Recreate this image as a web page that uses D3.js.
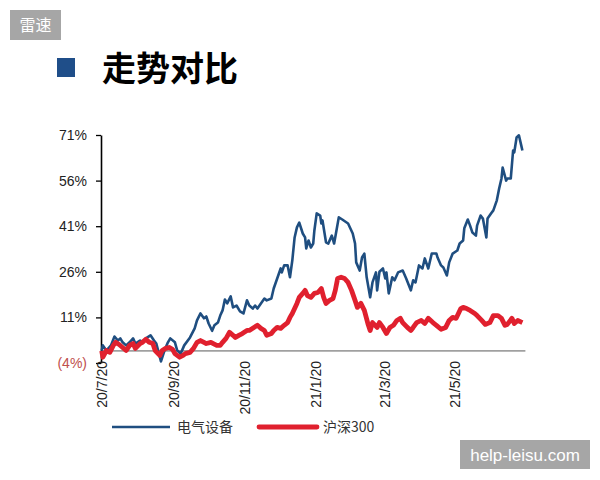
<!DOCTYPE html>
<html>
<head>
<meta charset="utf-8">
<script src="https://cdn.jsdelivr.net/npm/d3@7/dist/d3.min.js"></script>
<style>
html,body{margin:0;padding:0;background:#fff;}
svg{display:block;}
</style>
</head>
<body>
<svg id="chart" width="600" height="480"></svg>
<script>
// ---------------- data ----------------
const title = "走势对比";
const seriesNames = ["电气设备", "沪深300"];

const xTickDates = ["2020-07-20","2020-09-20","2020-11-20","2021-01-20","2021-03-20","2021-05-20"];
const xTickLabels = ["20/7/20","20/9/20","20/11/20","21/1/20","21/3/20","21/5/20"];
const yTickValues = [-4, 11, 26, 41, 56, 71];
const yTickLabels = ["(4%)","11%","26%","41%","56%","71%"];

const blueDates = ["2020-07-20","2020-07-21","2020-07-24","2020-07-28","2020-07-31","2020-08-03","2020-08-05","2020-08-07","2020-08-10","2020-08-13","2020-08-16","2020-08-18","2020-08-22","2020-08-24","2020-08-27","2020-08-31","2020-09-03","2020-09-05","2020-09-09","2020-09-12","2020-09-15","2020-09-17","2020-09-21","2020-09-23","2020-09-26","2020-09-29","2020-10-04","2020-10-08","2020-10-10","2020-10-13","2020-10-16","2020-10-18","2020-10-20","2020-10-23","2020-10-25","2020-10-28","2020-10-30","2020-11-01","2020-11-03","2020-11-05","2020-11-08","2020-11-10","2020-11-13","2020-11-16","2020-11-19","2020-11-22","2020-11-24","2020-11-27","2020-11-29","2020-12-01","2020-12-04","2020-12-07","2020-12-09","2020-12-13","2020-12-15","2020-12-18","2020-12-21","2020-12-22","2020-12-24","2020-12-27","2020-12-29","2020-12-31","2021-01-02","2021-01-04","2021-01-06","2021-01-09","2021-01-11","2021-01-12","2021-01-14","2021-01-16","2021-01-18","2021-01-19","2021-01-21","2021-01-24","2021-01-25","2021-01-26","2021-01-29","2021-01-31","2021-02-03","2021-02-05","2021-02-07","2021-02-09","2021-02-12","2021-02-17","2021-02-21","2021-02-23","2021-02-24","2021-02-27","2021-03-01","2021-03-03","2021-03-05","2021-03-08","2021-03-10","2021-03-13","2021-03-14","2021-03-16","2021-03-19","2021-03-21","2021-03-22","2021-03-24","2021-03-27","2021-03-29","2021-04-01","2021-04-05","2021-04-08","2021-04-12","2021-04-14","2021-04-16","2021-04-19","2021-04-22","2021-04-24","2021-04-27","2021-04-30","2021-05-04","2021-05-05","2021-05-08","2021-05-10","2021-05-13","2021-05-15","2021-05-18","2021-05-22","2021-05-24","2021-05-27","2021-05-28","2021-05-31","2021-06-02","2021-06-04","2021-06-07","2021-06-08","2021-06-11","2021-06-13","2021-06-16","2021-06-17","2021-06-20","2021-06-22","2021-06-25","2021-06-27","2021-06-29","2021-06-30","2021-07-03","2021-07-04","2021-07-07","2021-07-09","2021-07-10","2021-07-12","2021-07-14","2021-07-16","2021-07-17"];
const blueValues = [0,1.8,0.1,1.8,4.7,3.4,4.1,2.8,1.8,2.8,4.1,2.4,3.4,2.8,4.1,5.1,3.4,2.4,-3.5,0.1,2.8,4.1,2.8,0.1,-0.9,1.8,4.4,7.4,10.0,12.3,10.7,11.3,9.0,6.6,8.4,9.3,11.6,13.3,16.9,15.6,17.9,14.3,14.9,13.0,12.3,16.6,14.9,13.9,14.9,13.9,15.6,17.2,16.6,17.2,20.5,23.8,27.1,25.8,28.1,28.1,24.2,29.7,37.3,40.6,42.2,38.6,37.3,33.7,36.3,34.0,35.3,39.6,45.2,44.5,41.9,42.9,35.7,35.3,37.9,35.3,39.6,43.9,43.2,41.9,38.6,35.3,29.1,26.4,30.7,32.0,24.2,17.6,22.5,25.8,19.9,26.0,27.1,23.8,25.8,18.9,24.2,23.2,25.8,26.4,23.8,19.9,23.2,22.5,28.1,27.1,30.4,27.1,32.0,32.0,30.7,28.1,27.4,24.8,29.1,32.0,33.0,35.3,36.3,40.3,43.2,41.2,38.9,37.9,41.2,44.5,43.5,37.3,43.5,45.2,46.2,49.5,53.4,56.7,60.3,56.0,56.7,56.7,65.9,65.3,70.2,70.9,67.6,65.9];

const redDates = ["2020-07-20","2020-07-21","2020-07-24","2020-07-27","2020-07-30","2020-08-01","2020-08-04","2020-08-07","2020-08-10","2020-08-13","2020-08-16","2020-08-18","2020-08-22","2020-08-24","2020-08-27","2020-08-30","2020-09-02","2020-09-04","2020-09-08","2020-09-10","2020-09-13","2020-09-16","2020-09-19","2020-09-21","2020-09-25","2020-09-28","2020-09-30","2020-10-04","2020-10-07","2020-10-10","2020-10-13","2020-10-16","2020-10-18","2020-10-22","2020-10-24","2020-10-27","2020-10-30","2020-11-01","2020-11-04","2020-11-07","2020-11-10","2020-11-12","2020-11-15","2020-11-18","2020-11-22","2020-11-24","2020-11-28","2020-12-01","2020-12-04","2020-12-07","2020-12-09","2020-12-13","2020-12-15","2020-12-18","2020-12-21","2020-12-24","2020-12-27","2020-12-29","2020-12-31","2021-01-04","2021-01-06","2021-01-09","2021-01-11","2021-01-13","2021-01-16","2021-01-19","2021-01-22","2021-01-25","2021-01-27","2021-01-29","2021-02-01","2021-02-04","2021-02-06","2021-02-08","2021-02-11","2021-02-14","2021-02-17","2021-02-20","2021-02-23","2021-02-25","2021-02-28","2021-03-03","2021-03-06","2021-03-08","2021-03-10","2021-03-14","2021-03-16","2021-03-19","2021-03-22","2021-03-25","2021-03-28","2021-03-31","2021-04-03","2021-04-05","2021-04-09","2021-04-12","2021-04-14","2021-04-17","2021-04-21","2021-04-24","2021-04-27","2021-05-01","2021-05-04","2021-05-08","2021-05-12","2021-05-15","2021-05-18","2021-05-21","2021-05-25","2021-05-27","2021-05-30","2021-06-02","2021-06-06","2021-06-08","2021-06-12","2021-06-15","2021-06-19","2021-06-22","2021-06-26","2021-06-29","2021-07-02","2021-07-04","2021-07-08","2021-07-10","2021-07-13","2021-07-17"];
const redValues = [0,-2.1,0.1,-0.5,1.8,2.8,2.1,1.1,0.1,1.8,2.4,0.8,2.4,2.8,3.8,2.8,2.4,0.1,-1.5,0.1,0.8,1.1,0.5,-0.9,-2.1,-1.5,-0.9,-0.5,0.8,2.8,3.4,2.8,2.4,2.8,2.4,1.8,1.8,2.8,4.1,6.1,5.1,4.4,5.1,5.7,6.7,6.7,7.7,8.4,7.4,6.7,5.1,5.7,6.7,7.7,7.4,8.4,9.3,11.0,12.3,15.6,17.6,18.9,19.9,18.2,17.6,18.9,19.2,20.5,17.6,15.6,16.6,17.2,19.9,23.8,24.2,23.8,22.5,19.9,16.6,14.3,15.6,13.3,9.0,6.7,9.3,7.7,9.3,7.7,5.7,7.7,8.4,10.0,10.7,9.3,7.7,6.7,7.7,9.3,10.0,9.0,10.7,9.3,8.4,7.1,7.7,10.0,11.0,10.7,13.9,14.3,13.9,13.3,12.3,11.6,10.0,8.7,9.3,11.6,11.6,10.7,8.4,8.7,10.7,9.0,10.0,9.3];

const xDomain = ["2020-07-20","2021-07-17"];

// ---------------- drawing ----------------
const parse = d3.timeParse("%Y-%m-%d");
const svg = d3.select("#chart");

const blueColor = "#1f4e80";
const redColor = "#e0202e";

// watermarks
svg.append("rect").attr("x",10).attr("y",10).attr("width",51).attr("height",30).attr("fill","#a6a6a6");
svg.append("text").attr("x",35.5).attr("y",31).attr("text-anchor","middle")
  .attr("font-family","'Noto Sans CJK SC', sans-serif").attr("font-size",16).attr("fill","#fff").text("雷速");
svg.append("rect").attr("x",460).attr("y",440).attr("width",130).attr("height",29).attr("fill","#a6a6a6");
svg.append("text").attr("x",525).attr("y",460.5).attr("text-anchor","middle")
  .attr("font-family","'Liberation Sans', Arial, sans-serif").attr("font-size",17).attr("fill","#fff").text("help-leisu.com");

// title
svg.append("rect").attr("x",57).attr("y",58).attr("width",18).attr("height",19).attr("fill","#1f4e89");
svg.append("text").attr("x",102).attr("y",81)
  .attr("font-family","'Noto Sans CJK SC', sans-serif").attr("font-weight",700)
  .attr("font-size",34).attr("fill","#000").text(title);

const x = d3.scaleTime().domain(xDomain.map(parse)).range([101.7, 522.4]);
const y = d3.scaleLinear().domain([-4, 71]).range([363, 135]);

// zero line
svg.append("line").attr("x1", x(parse(xDomain[0]))).attr("x2", x(parse(xDomain[1])) + 3)
  .attr("y1", y(0)).attr("y2", y(0)).attr("stroke","#a0a0a0").attr("stroke-width",1.6);

// y axis
const yAxis = d3.axisLeft(y).tickValues(yTickValues)
  .tickFormat((d,i) => yTickLabels[i]).tickSize(5).tickSizeOuter(0).tickPadding(9);
const gy = svg.append("g").attr("transform","translate(101,0)").call(yAxis);
gy.select(".domain").attr("stroke","#000").attr("stroke-width",1.6);
gy.selectAll(".tick line").attr("stroke","#000").attr("stroke-width",1.3);
gy.selectAll(".tick text").attr("font-family","'Liberation Sans', Arial, sans-serif")
  .attr("font-size",14).attr("fill",(d) => d < 0 ? "#c0504d" : "#222");

// x axis labels
const xAxis = d3.axisBottom(x).tickValues(xTickDates.map(parse))
  .tickFormat((d,i) => xTickLabels[i]).tickSize(0);
const gx = svg.append("g").attr("transform","translate(0,359)").call(xAxis);
gx.select(".domain").remove();
gx.selectAll(".tick text").attr("transform","rotate(-90)")
  .attr("x",-2).attr("y",0).attr("dy","0.35em").attr("text-anchor","end")
  .attr("font-family","'Liberation Sans', Arial, sans-serif").attr("font-size",14).attr("fill","#222");

// lines
const blueData = blueDates.map((d,i) => ({date: parse(d), value: blueValues[i]}));
const redData = redDates.map((d,i) => ({date: parse(d), value: redValues[i]}));
const line = d3.line().x(d => x(d.date)).y(d => y(d.value));

svg.append("path").datum(blueData).attr("d", line).attr("fill","none")
  .attr("stroke", blueColor).attr("stroke-width",2.6).attr("stroke-linejoin","round");
svg.append("path").datum(redData).attr("d", line).attr("fill","none")
  .attr("stroke", redColor).attr("stroke-width",4.8).attr("stroke-linejoin","round");

// legend
const legend = svg.append("g");
legend.append("line").attr("x1",112).attr("x2",170).attr("y1",427).attr("y2",427)
  .attr("stroke",blueColor).attr("stroke-width",2.6);
legend.append("text").attr("x",177).attr("y",432).attr("font-family","'Noto Sans CJK SC', sans-serif")
  .attr("font-size",14).attr("fill","#333").text(seriesNames[0]);
legend.append("line").attr("x1",259).attr("x2",317).attr("y1",427).attr("y2",427)
  .attr("stroke",redColor).attr("stroke-width",4.8).attr("stroke-linecap","round");
legend.append("text").attr("x",323).attr("y",432).attr("font-family","'Noto Sans CJK SC', sans-serif")
  .attr("font-size",14).attr("fill","#333").text(seriesNames[1]);
</script>
</body>
</html>
